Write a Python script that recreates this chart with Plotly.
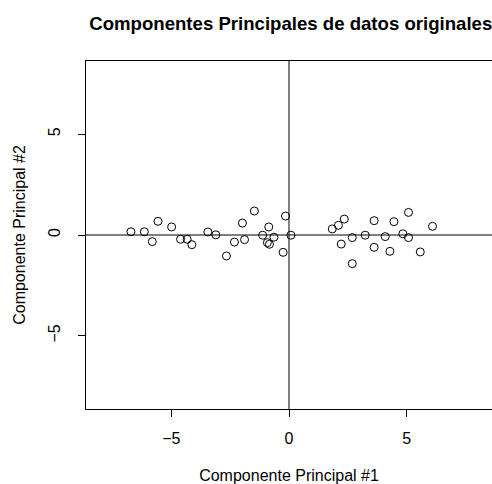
import plotly.graph_objects as go

pc1 = [-6.72, -6.15, -5.81, -5.57, -4.99, -4.61, -4.33, -4.13, -3.45, -3.11,
       -2.66, -2.32, -1.98, -1.89, -1.47, -1.12, -0.86, -0.92, -0.83, -0.64,
       -0.15, -0.25, 0.08, 1.84, 2.10, 2.35, 2.22, 2.69, 2.69, 3.24,
       3.62, 3.62, 4.09, 4.46, 4.29, 4.84, 5.08, 5.08, 5.58, 6.10]
pc2 = [0.16, 0.16, -0.33, 0.68, 0.40, -0.21, -0.21, -0.48, 0.15, 0.01,
       -1.04, -0.35, 0.59, -0.23, 1.19, -0.01, 0.40, -0.38, -0.46, -0.11,
       0.94, -0.86, -0.01, 0.30, 0.48, 0.79, -0.45, -0.13, -1.42, -0.01,
       0.71, -0.61, -0.08, 0.66, -0.81, 0.06, 1.12, -0.13, -0.84, 0.43]
tick_vals = [-5, 0, 5]
tick_text = ["\u22125", "0", "5"]
lim = 8.63

font = "Liberation Sans, Arial, sans-serif"

fig = go.Figure()
fig.add_trace(go.Scatter(
    x=pc1, y=pc2, mode="markers",
    marker=dict(symbol="circle-open", size=8, color="black", line=dict(width=1)),
    showlegend=False, hoverinfo="skip"))

fig.add_hline(y=0, line=dict(color="black", width=1))
fig.add_vline(x=0, line=dict(color="black", width=1))

axis_common = dict(showgrid=False, zeroline=False, showline=True, mirror=True,
                   linecolor="black", linewidth=1, ticks="outside", ticklen=7,
                   tickcolor="black", tickvals=tick_vals, ticktext=tick_text,
                   tickfont=dict(family=font, size=16, color="black"))

fig.update_layout(
    width=492, height=484,
    margin=dict(l=86, r=0, t=61, b=75),
    paper_bgcolor="white", plot_bgcolor="white",
    title=dict(text="<b>Componentes Principales de datos originales</b>",
               font=dict(family=font, size=18.6, color="black"),
               x=0.591, xanchor="center", y=1 - 23/484, yanchor="middle"),
    xaxis=dict(range=[-lim, lim],
               title=dict(text="Componente Principal #1", standoff=27,
                          font=dict(family=font, size=16, color="black")),
               ticklabelstandoff=8, **axis_common),
    yaxis=dict(range=[-lim, lim], tickangle=-90,
               title=dict(text="Componente Principal #2", standoff=15,
                          font=dict(family=font, size=16, color="black")),
               ticklabelstandoff=12, **axis_common),
)

fig.write_html("out.html")
